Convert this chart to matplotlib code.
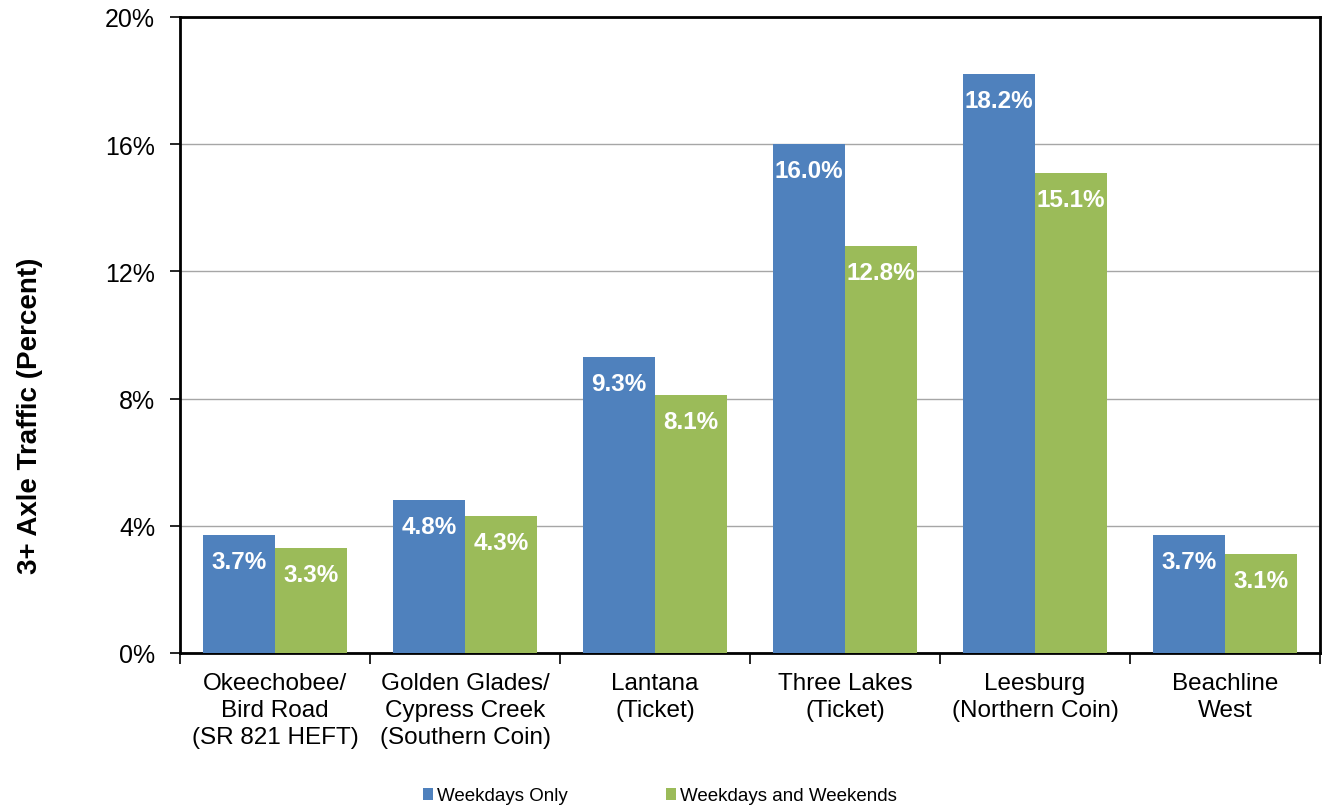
import matplotlib
matplotlib.use("Agg")
import matplotlib.pyplot as plt
import numpy as np

plt.rcParams["font.family"] = ["Liberation Sans", "DejaVu Sans"]

categories = [
    "Okeechobee/\nBird Road\n(SR 821 HEFT)",
    "Golden Glades/\nCypress Creek\n(Southern Coin)",
    "Lantana\n(Ticket)",
    "Three Lakes\n(Ticket)",
    "Leesburg\n(Northern Coin)",
    "Beachline\nWest",
]
weekdays_only = [3.7, 4.8, 9.3, 16.0, 18.2, 3.7]
weekdays_weekends = [3.3, 4.3, 8.1, 12.8, 15.1, 3.1]
series_names = ["Weekdays Only", "Weekdays and Weekends"]
y_ticks = [0, 4, 8, 12, 16, 20]

BLUE = "#4F81BD"
GREEN = "#9BBB59"

fig = plt.figure(figsize=(13.22, 8.12), dpi=100)
ax = fig.add_axes([180 / 1322, 1 - 654 / 812, 1140 / 1322, 636 / 812])

x = np.arange(len(categories))
w = 0.38
b1 = ax.bar(x - w / 2, weekdays_only, w, color=BLUE, label=series_names[0], zorder=3)
b2 = ax.bar(x + w / 2, weekdays_weekends, w, color=GREEN, label=series_names[1], zorder=3)

for bars, vals in ((b1, weekdays_only), (b2, weekdays_weekends)):
    for bar, v in zip(bars, vals):
        ax.annotate(f"{v:.1f}%", (bar.get_x() + bar.get_width() / 2, v),
                    xytext=(0, -19), textcoords="offset points",
                    ha="center", va="center", color="white",
                    fontsize=17.5, fontweight="bold", zorder=4)

ax.set_xlim(-0.5, len(categories) - 0.5)
ax.set_ylim(0, 20)
ax.set_yticks(y_ticks)
ax.set_yticklabels([f"{t}%" for t in y_ticks], fontsize=18)
ax.tick_params(axis="y", direction="out", length=7, width=1.2, pad=11)

# ticks between groups, labels at group centres
ax.set_xticks(np.arange(len(categories) + 1) - 0.5)
ax.set_xticklabels([])
ax.set_xticks(x, minor=True)
ax.set_xticklabels(categories, minor=True, fontsize=17.5, linespacing=1.27)
ax.tick_params(axis="x", which="major", direction="out", length=8, width=1.2)
ax.tick_params(axis="x", which="minor", length=0, pad=14)

ax.grid(axis="y", color="#A6A6A6", linewidth=1, zorder=0)
for s in ax.spines.values():
    s.set_color("black")
    s.set_linewidth(2)

fig.text(30 / 1322, 1 - 416 / 812, "3+ Axle Traffic (Percent)", rotation=90,
         ha="center", va="center", fontsize=20, fontweight="bold")

fig.legend(handles=[b1, b2], labels=series_names, loc="center",
           bbox_to_anchor=(660 / 1322, 1 - 797 / 812), ncol=2, frameon=False,
           fontsize=13.5, handlelength=0.55, handleheight=0.55,
           handletextpad=0.22, columnspacing=5.2)

fig.savefig("out.png", dpi=100)
